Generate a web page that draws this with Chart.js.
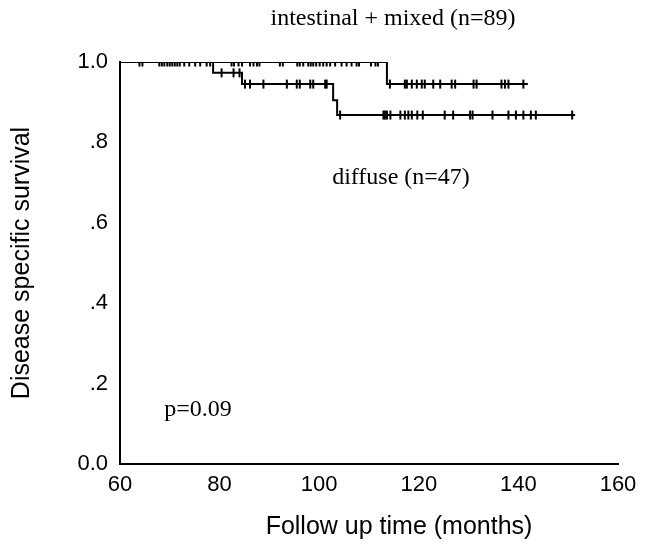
<!DOCTYPE html>
<html>
<head>
<meta charset="utf-8">
<script src="https://cdn.jsdelivr.net/npm/chart.js@4.4.1/dist/chart.umd.min.js"></script>
<style>
body { margin: 0; background: #fff; }
#wrap { width: 650px; height: 550px; }
</style>
</head>
<body>
<div id="wrap"><canvas id="km" width="650" height="550"></canvas></div>
<script>
// step points of each curve (month, survival)
const intestinalTimes = [60, 113.6, 141.9];
const intestinalSurv = [1.0, 0.945, 0.945];
const diffuseTimes = [60, 78.7, 84.5, 102.8, 103.6, 151.4];
const diffuseSurv = [1.0, 0.973, 0.945, 0.905, 0.868, 0.868];

// censored cases (months)
const intestinalCensor = [
  63.9, 64.5, 67.9, 68.4, 68.9, 69.5, 70, 70.5, 71, 71.5, 72, 72.9, 73.9, 75.1, 76.1, 77.4, 78.1,
  82.4, 82.9, 83.8, 84.5, 86.1, 86.8, 87.5, 88.0, 92.1, 92.7, 95.6, 96.1, 96.8, 97.8, 98.3, 98.8, 99.4,
  100.1, 100.8, 101.5, 102.2, 103.2, 104.5, 105.5, 106.5, 107.5, 108.0, 110.4, 111.3, 111.8,
  114.2, 117.2, 117.6, 118.6, 119.6, 120.6, 121.2, 122.9, 124.3, 126.6, 127.3, 131.0, 131.6,
  136.6, 137.3, 138.0, 141.0
];
const diffuseCensor = [
  80.4, 82.8, 84.0, 85.1, 86.1, 88.8, 93.5, 95.5, 96.1, 98.2, 98.8, 101.2, 101.5,
  104.2, 112.9, 113.2, 113.6, 114.3, 116.3, 117.2, 117.9, 118.6, 119.7, 120.8, 125.2, 126.9,
  130.3, 130.8, 134.8, 138.0, 139.5, 141.0, 142.5, 143.5, 150.8
];

const xTicks = [60, 80, 100, 120, 140, 160];
const yTickLabels = {0: "0.0", 0.2: ".2", 0.4: ".4", 0.6: ".6", 0.8: ".8", 1: "1.0"};

function survAt(times, surv, t) {
  let s = surv[0];
  for (let i = 0; i < times.length; i++) {
    if (times[i] <= t) s = surv[i];
  }
  return s;
}

function steps(times, surv) {
  return times.map((t, i) => ({x: t, y: surv[i]}));
}
function marks(times, surv, cens) {
  return cens.map(t => ({x: t, y: survAt(times, surv, t)}));
}

const textPlugin = {
  id: "labels",
  afterDraw(chart) {
    const c = chart.ctx;
    c.save();
    c.fillStyle = "#000";
    c.textAlign = "center";
    c.textBaseline = "middle";
    c.font = "24px 'Liberation Serif'";
    c.fillText("intestinal + mixed (n=89)", 393, 19);
    c.fillText("diffuse (n=47)", 401, 178);
    c.fillText("p=0.09", 198, 410);
    // x axis title sits right of the axis centre in the original
    c.font = "25px 'Liberation Sans'";
    c.fillText("Follow up time (months)", 399, 527);
    c.restore();
  }
};

const lineStyle = {
  borderColor: "#000",
  borderWidth: 2,
  pointRadius: 0,
  fill: false,
  stepped: "before",
  showLine: true
};
const markStyle = {
  type: "scatter",
  showLine: false,
  pointStyle: "line",
  rotation: 90,
  pointRadius: 4.5,
  pointBorderWidth: 2,
  pointBorderColor: "#000",
  borderColor: "#000"
};

new Chart(document.getElementById("km"), {
  type: "line",
  data: {
    datasets: [
      Object.assign({label: "intestinal + mixed", data: steps(intestinalTimes, intestinalSurv)}, lineStyle),
      Object.assign({label: "diffuse", data: steps(diffuseTimes, diffuseSurv)}, lineStyle),
      Object.assign({label: "ic", data: marks(intestinalTimes, intestinalSurv, intestinalCensor)}, markStyle),
      Object.assign({label: "dc", data: marks(diffuseTimes, diffuseSurv, diffuseCensor)}, markStyle)
    ]
  },
  options: {
    responsive: false,
    animation: false,
    layout: {padding: {top: 62, right: 32, left: 0, bottom: 0}},
    plugins: {legend: {display: false}, tooltip: {enabled: false}},
    scales: {
      x: {
        type: "linear",
        min: 60, max: 160,
        afterFit: s => { s.height = 86; },
        afterBuildTicks: s => { s.ticks = xTicks.map(v => ({value: v})); },
        grid: {display: false, drawTicks: false},
        border: {display: true, color: "#000", width: 2},
        ticks: {color: "#000", padding: 8, font: {family: "'Liberation Sans'", size: 22}},
        title: {display: false}
      },
      y: {
        min: 0, max: 1,
        afterFit: s => { s.width = 120; },
        grid: {display: false, drawTicks: false},
        border: {display: true, color: "#000", width: 2},
        ticks: {color: "#000", stepSize: 0.2, padding: 12,
          font: {family: "'Liberation Sans'", size: 22},
          callback: v => yTickLabels[Math.round(v * 10) / 10]},
        title: {display: true, text: "Disease specific survival", color: "#000",
          font: {family: "'Liberation Sans'", size: 25}, padding: {top: 7, bottom: 0}}
      }
    }
  },
  plugins: [textPlugin]
});
</script>
</body>
</html>
